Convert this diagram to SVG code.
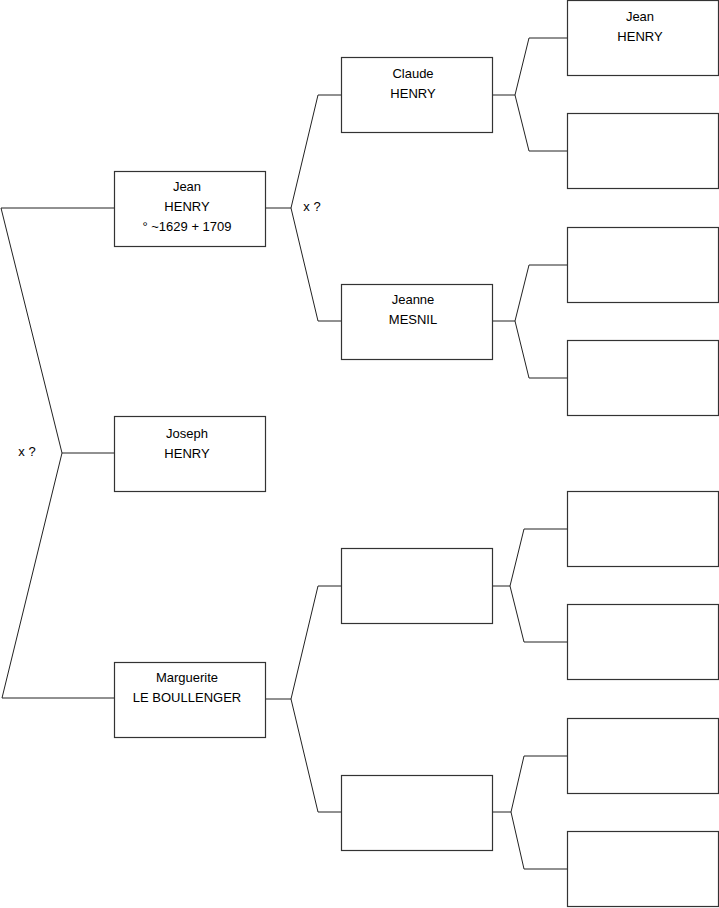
<svg xmlns="http://www.w3.org/2000/svg" width="719" height="908" viewBox="0 0 719 908">
<style>
.box{fill:#fff;stroke:#333;stroke-width:1.2}
.ln{fill:none;stroke:#222;stroke-width:1}
text{font-family:"Liberation Sans",Arial,sans-serif;font-size:13px;fill:#000;text-anchor:middle}
</style>
<rect width="719" height="908" fill="#fff"/>
<g id="connectors">
<polyline class="ln" points="114,208 1,208 62,453 114,453"/>
<polyline class="ln" points="62,453 2,698 114,698"/>
<polyline class="ln" points="265,208 291,208 318,95 341,95"/>
<polyline class="ln" points="291,208 318,321 341,321"/>
<polyline class="ln" points="265,699 291,699 318,586 341,586"/>
<polyline class="ln" points="291,699 318,812 341,812"/>
<polyline class="ln" points="492,95 515,95 529,38 567,38"/>
<polyline class="ln" points="515,95 529,151 567,151"/>
<polyline class="ln" points="492,321 515,321 529,265 567,265"/>
<polyline class="ln" points="515,321 529,378 567,378"/>
<polyline class="ln" points="492,586 510,586 524,529 567,529"/>
<polyline class="ln" points="510,586 524,642 567,642"/>
<polyline class="ln" points="492,812 511,812 524,756 567,756"/>
<polyline class="ln" points="511,812 524,869 567,869"/>
<text x="312" y="211">x ?</text>
<text x="27" y="456">x ?</text>
</g>
<g id="n-jean"><rect class="box" x="114.5" y="171.5" width="151" height="75"/><text x="187" y="191">Jean</text><text x="187" y="211">HENRY</text><text x="187" y="231">° ~1629 + 1709</text></g>
<g id="n-joseph"><rect class="box" x="114.5" y="416.5" width="151" height="75"/><text x="187" y="438">Joseph</text><text x="187" y="458">HENRY</text></g>
<g id="n-marguerite"><rect class="box" x="114.5" y="662.5" width="151" height="75"/><text x="187" y="682">Marguerite</text><text x="187" y="702">LE BOULLENGER</text></g>
<g id="n-claude"><rect class="box" x="341.5" y="57.5" width="151" height="75"/><text x="413" y="78">Claude</text><text x="413" y="98">HENRY</text></g>
<g id="n-jeanne"><rect class="box" x="341.5" y="284.5" width="151" height="75"/><text x="413" y="304">Jeanne</text><text x="413" y="324">MESNIL</text></g>
<g id="n-m1"><rect class="box" x="341.5" y="548.5" width="151" height="75"/></g>
<g id="n-m2"><rect class="box" x="341.5" y="775.5" width="151" height="75"/></g>
<g id="n-jean2"><rect class="box" x="567.5" y="0.5" width="151" height="75"/><text x="640" y="21">Jean</text><text x="640" y="41">HENRY</text></g>
<g id="n-r2"><rect class="box" x="567.5" y="113.5" width="151" height="75"/></g>
<g id="n-r3"><rect class="box" x="567.5" y="227.5" width="151" height="75"/></g>
<g id="n-r4"><rect class="box" x="567.5" y="340.5" width="151" height="75"/></g>
<g id="n-r5"><rect class="box" x="567.5" y="491.5" width="151" height="75"/></g>
<g id="n-r6"><rect class="box" x="567.5" y="604.5" width="151" height="75"/></g>
<g id="n-r7"><rect class="box" x="567.5" y="718.5" width="151" height="75"/></g>
<g id="n-r8"><rect class="box" x="567.5" y="831.5" width="151" height="75"/></g>
</svg>
